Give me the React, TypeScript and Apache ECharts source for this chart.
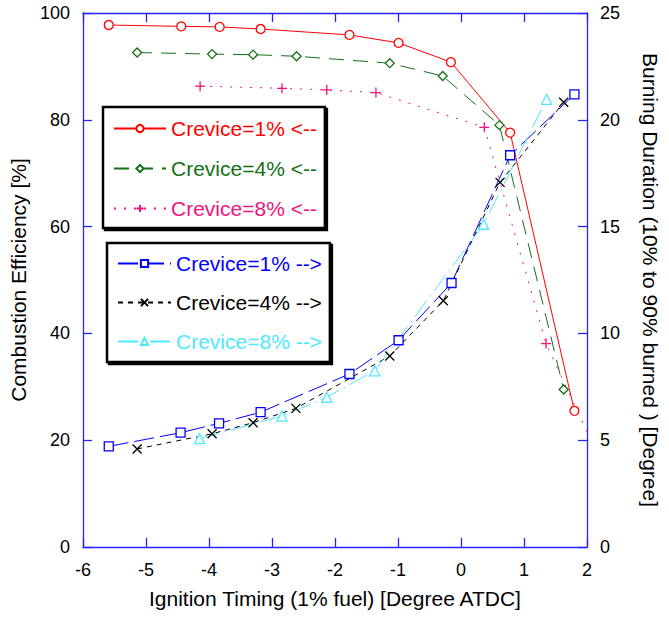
import React, { useEffect, useRef } from "react";
import * as echarts from "echarts";

// Ignition timing [deg ATDC] and combustion efficiency [%] (left axis)
const xEff1 = [-5.59, -4.44, -3.83, -3.18, -1.77, -0.99, -0.16, 0.78, 1.8];
const eff1 = [97.75, 97.5, 97.4, 97.0, 95.9, 94.4, 90.8, 77.6, 25.5];
const xEff4 = [-5.14, -3.95, -3.3, -2.61, -1.13, -0.29, 0.61, 1.63];
const eff4 = [92.6, 92.3, 92.2, 91.9, 90.6, 88.2, 79.0, 29.5];
const xEff8 = [-4.14, -2.84, -2.13, -1.35, 0.37, 1.35, 2.3];
const eff8 = [86.3, 85.9, 85.6, 85.1, 78.6, 38.1, 14.0];

// Burning duration (10%-90% burned) [deg] (right axis)
const xDur1 = [-5.59, -4.45, -3.84, -3.18, -1.77, -0.99, -0.15, 0.78, 1.8];
const dur1 = [4.71, 5.35, 5.79, 6.31, 8.1, 9.68, 12.36, 18.34, 21.19];
const xDur4 = [-5.14, -3.95, -3.3, -2.62, -1.13, -0.28, 0.62, 1.63];
const dur4 = [4.59, 5.3, 5.82, 6.49, 8.94, 11.53, 17.07, 20.82];
const xDur8 = [-4.15, -2.84, -2.13, -1.37, 0.36, 1.36];
const dur8 = [5.07, 6.13, 7.01, 8.25, 15.11, 20.96];

const names = [
  "Crevice=1% <--",
  "Crevice=4% <--",
  "Crevice=8% <--",
  "Crevice=1% -->",
  "Crevice=4% -->",
  "Crevice=8% -->",
];

const RED = "#ff0000";
const GREEN = "#157015";
const PINK = "#f0147f";
const BLUE = "#0000ff";
const BLACK = "#000000";
const CYAN = "#4ee8ff";
const AXIS = "#2424ff";
const FONT = "'Liberation Sans', Arial, sans-serif";

const PLUS = "path://M5,0 L5,10 M0,5 L10,5";
const CROSS = "path://M0,0 L10,10 M10,0 L0,10";

function pairs(xs: number[], ys: number[]) {
  return xs.map((x, i) => [x, ys[i]]);
}

export default function App() {
  const ref = useRef<HTMLDivElement>(null);
  useEffect(() => {
    document.body.style.margin = "0";
    const chart = echarts.init(ref.current!, null, { renderer: "svg" });

    const mk = (
      name: string,
      xs: number[],
      ys: number[],
      yAxisIndex: number,
      color: string,
      dash: any,
      symbol: string,
      size: number
    ) => ({
      type: "line",
      name,
      data: pairs(xs, ys),
      yAxisIndex,
      xAxisIndex: 0,
      symbol,
      symbolSize: size,
      showSymbol: true,
      clip: true,
      lineStyle: { color, width: 1, type: dash },
      itemStyle: { color: "#ffffff", borderColor: color, borderWidth: 1.3 },
      emphasis: { disabled: true },
      z: 3,
    });

    const axisCommon = {
      axisLine: { show: true, onZero: false, lineStyle: { color: AXIS, width: 1.3 } },
      axisTick: { show: true, inside: true, length: 9, lineStyle: { color: AXIS, width: 1.3 } },
      splitLine: { show: false },
    };
    const labelStyle = { color: "#000", fontSize: 18, fontFamily: FONT };
    const nameStyle = { color: "#000", fontSize: 21, fontFamily: FONT };

    const legendCommon = {
      orient: "vertical",
      selectedMode: false,
      backgroundColor: "#ffffff",
      borderColor: "#000",
      borderWidth: 2.5,
      borderRadius: 0,
      shadowColor: "#000",
      shadowBlur: 0,
      shadowOffsetX: 2,
      shadowOffsetY: 2,
      itemWidth: 52,
      itemHeight: 9,
      itemGap: 19,
      textStyle: { fontSize: 21, fontFamily: FONT },
    };

    chart.setOption({
      animation: false,
      backgroundColor: "#ffffff",
      grid: { left: 82, right: 79, top: 13, bottom: 70, containLabel: false },
      xAxis: [
        {
          type: "value",
          min: -6,
          max: 2,
          interval: 1,
          position: "bottom",
          ...axisCommon,
          axisLabel: { ...labelStyle, margin: 14 },
          name: "Ignition Timing (1% fuel) [Degree ATDC]",
          nameLocation: "middle",
          nameGap: 41,
          nameTextStyle: nameStyle,
        },
        {
          type: "value",
          min: -6,
          max: 2,
          interval: 1,
          position: "top",
          ...axisCommon,
          axisLabel: { show: false },
        },
      ],
      yAxis: [
        {
          type: "value",
          min: 0,
          max: 100,
          interval: 20,
          position: "left",
          ...axisCommon,
          axisLabel: { ...labelStyle, margin: 13 },
          name: "Combustion Efficiency [%]",
          nameLocation: "middle",
          nameGap: 44,
          nameTextStyle: nameStyle,
        },
        {
          type: "value",
          min: 0,
          max: 25,
          interval: 5,
          position: "right",
          ...axisCommon,
          axisLabel: { ...labelStyle, margin: 13 },
          name: "Burning Duration (10% to 90% burned ) [Degree]",
          nameLocation: "middle",
          nameRotate: -90,
          nameGap: 53,
          nameTextStyle: nameStyle,
        },
      ],
      legend: [
        {
          ...legendCommon,
          left: 103,
          top: 107,
          padding: [11, 8, 9, 10],
          data: [
            { name: names[0], textStyle: { color: RED } },
            { name: names[1], textStyle: { color: GREEN } },
            { name: names[2], textStyle: { color: PINK } },
          ],
        },
        {
          ...legendCommon,
          left: 107,
          top: 243,
          itemWidth: 53,
          itemGap: 18,
          padding: [10, 8, 10, 10],
          data: [
            { name: names[3], textStyle: { color: BLUE } },
            { name: names[4], textStyle: { color: BLACK } },
            { name: names[5], textStyle: { color: CYAN } },
          ],
        },
      ],
      series: [
        mk(names[0], xEff1, eff1, 0, RED, "solid", "circle", 9),
        mk(names[1], xEff4, eff4, 0, GREEN, [15, 9], "diamond", 9),
        mk(names[2], xEff8, eff8, 0, PINK, [2, 8], PLUS, 10),
        mk(names[3], xDur1, dur1, 1, BLUE, [20, 6], "rect", 9),
        mk(names[4], xDur4, dur4, 1, BLACK, [5, 5], CROSS, 9),
        mk(names[5], xDur8, dur8, 1, CYAN, [20, 5, 2, 5], "triangle", 10),
      ],
    });
    return () => chart.dispose();
  }, []);
  return <div ref={ref} style={{ width: 669, height: 617 }} />;
}
